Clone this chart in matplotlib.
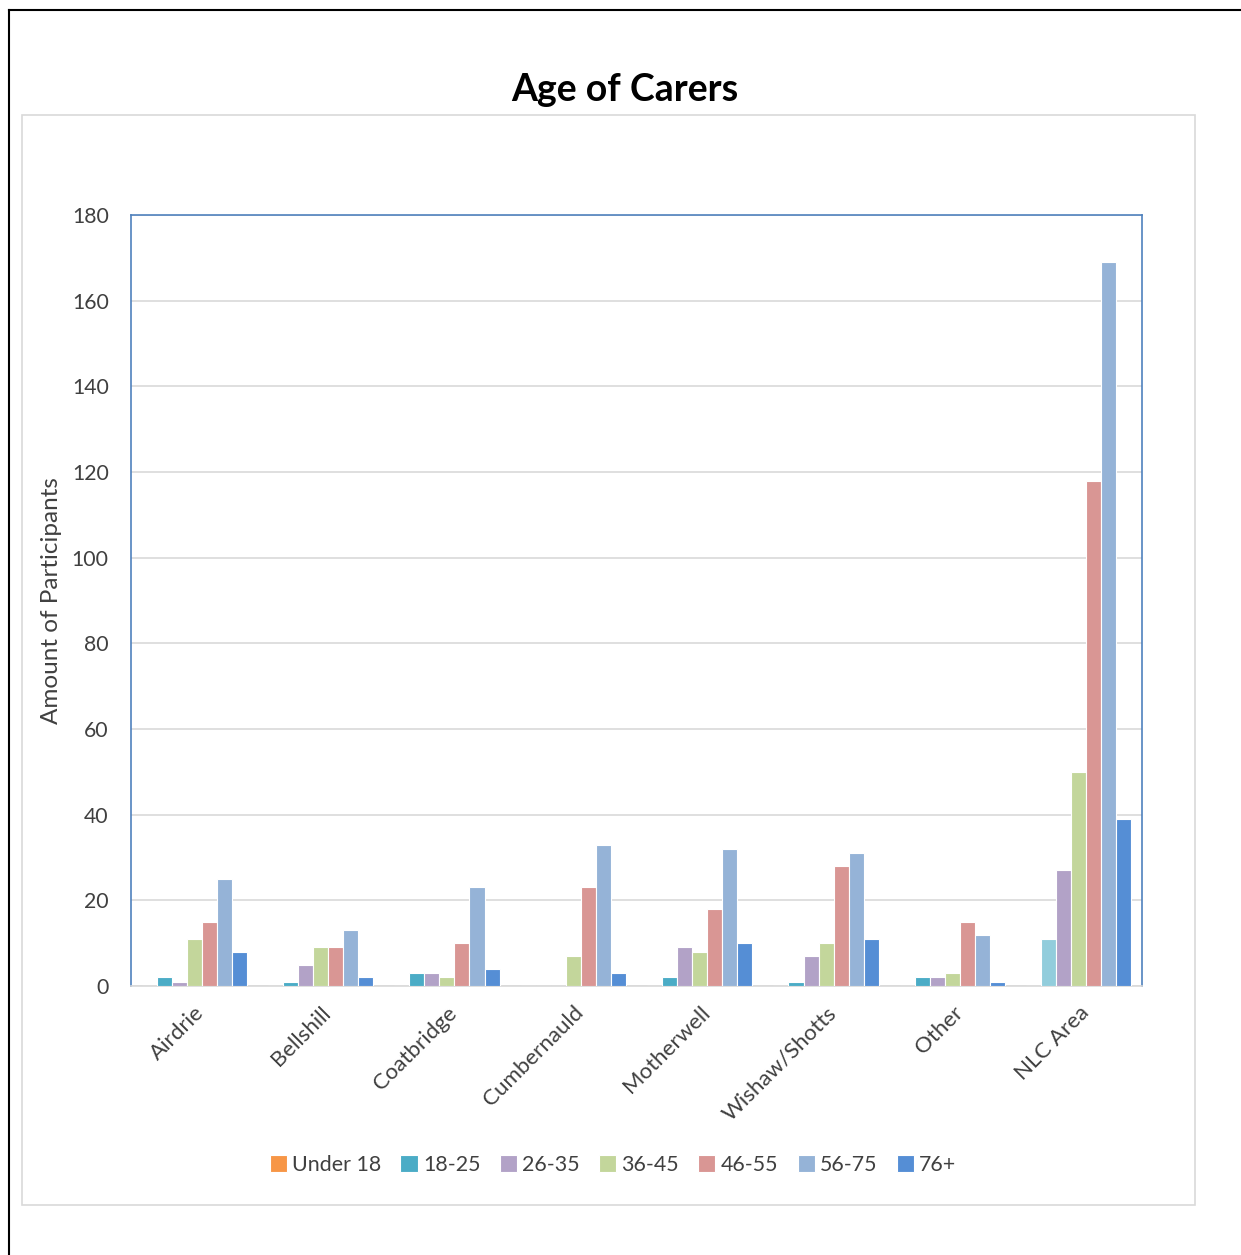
import matplotlib.pyplot as plt
import numpy as np
from matplotlib.lines import Line2D
from matplotlib.patches import Rectangle

# data
areas = ["Airdrie", "Bellshill", "Coatbridge", "Cumbernauld", "Motherwell",
         "Wishaw/Shotts", "Other", "NLC Area"]
age_groups = ["Under 18", "18-25", "26-35", "36-45", "46-55", "56-75", "76+"]
under_18 = [0, 0, 0, 0, 0, 0, 0, 0]
age_18_25 = [2, 1, 3, 0, 2, 1, 2, 11]
age_26_35 = [1, 5, 3, 0, 9, 7, 2, 27]
age_36_45 = [11, 9, 2, 7, 8, 10, 3, 50]
age_46_55 = [15, 9, 10, 23, 18, 28, 15, 118]
age_56_75 = [25, 13, 23, 33, 32, 31, 12, 169]
age_76_plus = [8, 2, 4, 3, 10, 11, 1, 39]

colors = ["#F79646", "#4BACC6", "#B2A2C7", "#C3D69B", "#D99694", "#95B3D7", "#558ED5"]
nlc_18_25_color = "#92CDDC"

plt.rcParams['font.family'] = ['Lato', 'DejaVu Sans']

fig = plt.figure(figsize=(12.41, 12.55), dpi=100)
W, H = 1241, 1255

# outer black frame (top and left edges) and grey chart border
fig.add_artist(Line2D([9 / W, 1], [1 - 10 / H, 1 - 10 / H], color="black", lw=1.5))
fig.add_artist(Line2D([9 / W, 9 / W], [0, 1 - 10 / H], color="black", lw=1.5))
fig.add_artist(Rectangle((22 / W, 1 - 1205 / H), (1195 - 22) / W, (1205 - 115) / H,
                         fill=False, edgecolor="#D9D9D9", lw=1.2))

ax = fig.add_axes([131 / W, 1 - 986 / H, (1142 - 131) / W, (986 - 215) / H])

series = [under_18, age_18_25, age_26_35, age_36_45, age_46_55, age_56_75, age_76_plus]
x = np.arange(len(areas))
step = 0.119
for i, (name, vals) in enumerate(zip(age_groups, series)):
    offs = (i - 3) * step
    bars = ax.bar(x + offs, vals, width=step, color=colors[i], edgecolor="white",
                  linewidth=0.8, label=name, zorder=3)
    if name == "18-25":
        bars[-1].set_facecolor(nlc_18_25_color)

ax.set_xlim(-0.5, len(areas) - 0.5)
ax.set_ylim(0, 180)
ax.set_yticks(range(0, 181, 20))
ax.grid(axis="y", color="#D9D9D9", lw=1.2, zorder=0)
ax.tick_params(axis="y", length=0, labelsize=15.3, labelcolor="#404040", pad=16)
ax.set_xticks(x)
ax.set_xticklabels(areas, rotation=45, ha="right", rotation_mode="anchor")
ax.tick_params(axis="x", length=0, labelsize=16, labelcolor="#404040", pad=12)

for side in ["left", "top", "right"]:
    ax.spines[side].set_color("#4F81BD")
    ax.spines[side].set_linewidth(1.2)
ax.spines["bottom"].set_color("#D9D9D9")
ax.spines["bottom"].set_linewidth(1.2)

ax.set_ylabel("Amount of Participants", fontsize=17.5, color="#404040")
ax.yaxis.set_label_coords(-0.068, 0.5)

fig.text(625 / W, 1 - 90 / H, "Age of Carers", fontsize=27, fontweight="bold",
         ha="center", va="center")

fig.legend(*ax.get_legend_handles_labels(), loc="center", ncol=7,
           bbox_to_anchor=(613 / W, 1 - 1165 / H), frameon=False, fontsize=15.4,
           handlelength=0.8, handleheight=0.8, handletextpad=0.25, columnspacing=0.9,
           labelcolor="#404040")

fig.savefig("out.png", dpi=100)
